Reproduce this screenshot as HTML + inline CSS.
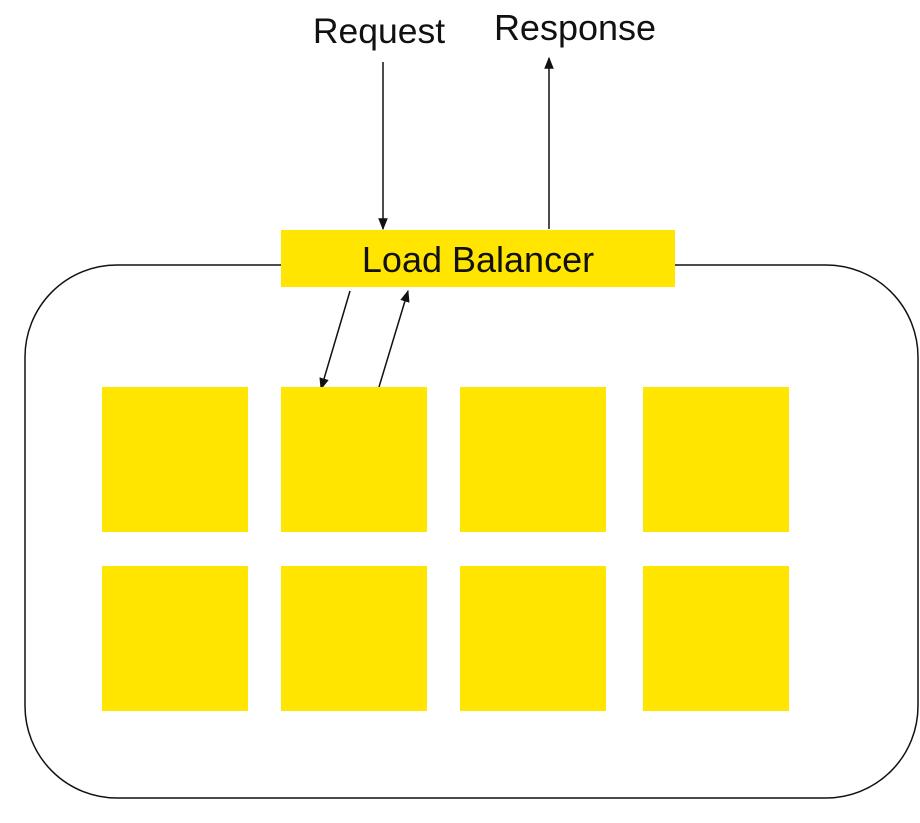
<!DOCTYPE html>
<html><head><meta charset="utf-8"><style>
html,body{margin:0;padding:0;background:#fff;}
svg{display:block;}
text{font-family:"Liberation Sans",Arial,sans-serif;fill:#111;}
</style></head><body>
<svg width="920" height="823" viewBox="0 0 920 823">
<defs>
<marker id="ah" viewBox="0 0 10 10" refX="9" refY="5" markerWidth="8" markerHeight="8" orient="auto-start-reverse">
<path d="M0,1 L10,5 L0,9 z" fill="#111"/>
</marker>
</defs>
<rect x="25" y="265" width="893" height="533" rx="92" ry="92" fill="#fff" stroke="#111" stroke-width="1.5"/>
<text x="379" y="43" font-size="35.5" text-anchor="middle">Request</text>
<text x="575" y="40" font-size="36" text-anchor="middle">Response</text>
<line x1="383" y1="62" x2="383" y2="229" stroke="#111" stroke-width="1.5" marker-end="url(#ah)"/>
<line x1="549" y1="229" x2="549" y2="58" stroke="#111" stroke-width="1.5" marker-end="url(#ah)"/>
<rect x="281" y="230" width="394" height="57" fill="#FFE500"/>
<text x="478" y="272" font-size="36" text-anchor="middle">Load Balancer</text>
<line x1="350" y1="291" x2="321" y2="389" stroke="#111" stroke-width="1.5" marker-end="url(#ah)"/>
<line x1="379" y1="387" x2="408" y2="291" stroke="#111" stroke-width="1.5" marker-end="url(#ah)"/>
<g fill="#FFE500">
<rect x="102" y="387" width="146" height="145"/>
<rect x="281" y="387" width="146" height="145"/>
<rect x="460" y="387" width="146" height="145"/>
<rect x="643" y="387" width="146" height="145"/>
<rect x="102" y="566" width="146" height="145"/>
<rect x="281" y="566" width="146" height="145"/>
<rect x="460" y="566" width="146" height="145"/>
<rect x="643" y="566" width="146" height="145"/>
</g>
</svg>
</body></html>
